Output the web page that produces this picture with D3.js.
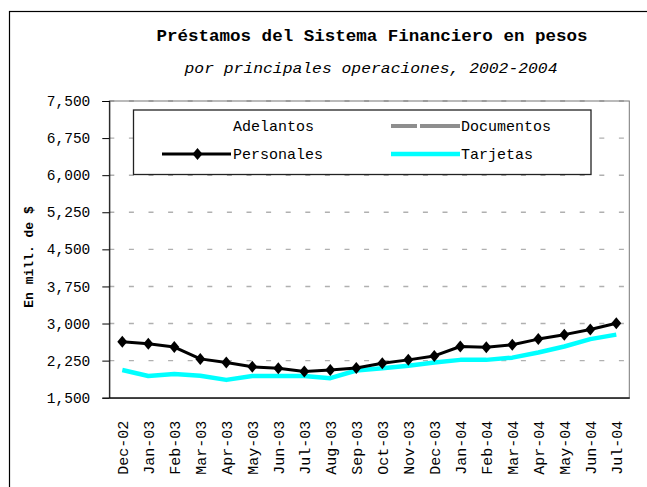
<!DOCTYPE html>
<html>
<head>
<meta charset="utf-8">
<script src="https://cdn.jsdelivr.net/npm/d3@7"></script>
<style>
  body { margin: 0; background: #fff; }
  text { font-family: "Liberation Mono", "DejaVu Sans Mono", monospace; fill: #000; }
</style>
</head>
<body>
<div id="chart"></div>
<script>
// months on the category axis
var months = ["Dec-02","Jan-03","Feb-03","Mar-03","Apr-03","May-03","Jun-03","Jul-03","Aug-03","Sep-03",
              "Oct-03","Nov-03","Dec-03","Jan-04","Feb-04","Mar-04","Apr-04","May-04","Jun-04","Jul-04"];

// en millones de $
var personales = [2630, 2590, 2525, 2285, 2210, 2125, 2095, 2030, 2060, 2100,
                  2195, 2265, 2345, 2535, 2520, 2570, 2685, 2775, 2880, 3005];
var tarjetas   = [2060, 1940, 1980, 1945, 1860, 1940, 1940, 1940, 1895, 2050,
                  2095, 2145, 2210, 2265, 2265, 2310, 2415, 2535, 2685, 2775];

var yTicks = [1500, 2250, 3000, 3750, 4500, 5250, 6000, 6750, 7500];

var width = 647, height = 487;
var plot = {left: 109.3, right: 629.3, top: 101, bottom: 397.7};

var svg = d3.select("#chart").append("svg")
    .attr("width", width).attr("height", height);

// outer chart border (runs off the bottom/right of the picture)
svg.append("rect")
    .attr("x", 9.5).attr("y", 11.5)
    .attr("width", 660).attr("height", 500)
    .attr("fill", "#fff").attr("stroke", "#000").attr("stroke-width", 1.2);

var x = d3.scaleBand().domain(months).range([plot.left, plot.right]);
var y = d3.scaleLinear().domain([1500, 7500]).range([plot.bottom, plot.top]);
var cx = function (m) { return x(m) + x.bandwidth() / 2; };

// gridlines
svg.append("g").selectAll("line")
    .data(yTicks.slice(1))
    .enter().append("line")
    .attr("x1", plot.left).attr("x2", plot.right)
    .attr("y1", function (d) { return y(d); })
    .attr("y2", function (d) { return y(d); })
    .attr("stroke", "#b0b0b0").attr("stroke-width", 1.4)
    .attr("stroke-dasharray", "5,14.6");

// plot area frame (grey right/top)
svg.append("rect")
    .attr("x", plot.left).attr("y", plot.top)
    .attr("width", plot.right - plot.left).attr("height", plot.bottom - plot.top)
    .attr("fill", "none").attr("stroke", "#777").attr("stroke-width", 1);

// y axis
var yAxis = svg.append("g")
    .attr("transform", "translate(" + plot.left + ",0)")
    .call(d3.axisLeft(y).tickValues(yTicks).tickFormat(d3.format(",")).tickSize(7).tickPadding(12));
yAxis.select(".domain").attr("stroke", "#000");
yAxis.selectAll(".tick line").attr("stroke", "#000");
yAxis.selectAll("text").style("font-size", "14.5px").attr("fill", "#111")
    .style("font-family", "Liberation Mono");

// x axis
var xAxis = svg.append("g")
    .attr("transform", "translate(0," + plot.bottom + ")")
    .call(d3.axisBottom(x).tickSize(0).tickSizeOuter(0));
xAxis.select(".domain").attr("stroke", "#000").attr("stroke-width", 1.3);
xAxis.selectAll("text")
    .attr("transform", "translate(0,23) rotate(-90)")
    .attr("x", 0).attr("y", 0).attr("dy", "0.36em")
    .style("text-anchor", "end")
    .style("font-size", "15px")
    .style("font-family", "Liberation Mono")
    .attr("fill", "#111");

// axis title
svg.append("text")
    .attr("transform", "translate(28,257) rotate(-90)")
    .attr("text-anchor", "middle").attr("dy", "0.36em")
    .style("font-size", "13px").style("font-weight", "bold")
    .text("En mill. de $");

// titles
svg.append("text")
    .attr("x", 372).attr("y", 41)
    .attr("text-anchor", "middle")
    .attr("textLength", 431).attr("lengthAdjust", "spacingAndGlyphs")
    .style("font-size", "16px").style("font-weight", "bold")
    .text("Préstamos del Sistema Financiero en pesos");
svg.append("text")
    .attr("x", 371).attr("y", 73)
    .attr("text-anchor", "middle")
    .attr("textLength", 373).attr("lengthAdjust", "spacingAndGlyphs")
    .style("font-size", "15px").style("font-style", "italic")
    .text("por principales operaciones, 2002-2004");

// series
var line = d3.line()
    .x(function (d, i) { return cx(months[i]); })
    .y(function (d) { return y(d); });

svg.append("path").datum(tarjetas)
    .attr("d", line)
    .attr("fill", "none").attr("stroke", "#00ffff")
    .attr("stroke-width", 4.5).attr("stroke-linejoin", "round");

svg.append("path").datum(personales)
    .attr("d", line)
    .attr("fill", "none").attr("stroke", "#000")
    .attr("stroke-width", 3).attr("stroke-linejoin", "round");

function diamond(px, py) {
  return "M" + px + "," + (py - 6) + "L" + (px + 5) + "," + py +
         "L" + px + "," + (py + 6) + "L" + (px - 5) + "," + py + "Z";
}

svg.append("g").selectAll("path")
    .data(personales)
    .enter().append("path")
    .attr("d", function (d, i) { return diamond(cx(months[i]), y(d)); })
    .attr("fill", "#000");

// legend
var legend = svg.append("g").attr("id", "legend");
legend.append("rect")
    .attr("x", 133.5).attr("y", 110)
    .attr("width", 457.5).attr("height", 64.5)
    .attr("fill", "#fff").attr("stroke", "#222").attr("stroke-width", 1.3);

var legendItems = [
  {name: "Adelantos",  col: 0, row: 0, color: "#fff",    w: 3,   dash: null, marker: false},
  {name: "Documentos", col: 1, row: 0, color: "#8e8e8e", w: 4,   dash: "26,3,100", marker: false},
  {name: "Personales", col: 0, row: 1, color: "#000",    w: 3,   dash: null, marker: true},
  {name: "Tarjetas",   col: 1, row: 1, color: "#00ffff", w: 4.5, dash: null, marker: false}
];
var colX = [162, 391], rowY = [126, 154];

legendItems.forEach(function (e) {
  var x0 = colX[e.col], yy = rowY[e.row];
  legend.append("line")
      .attr("x1", x0).attr("x2", x0 + 69)
      .attr("y1", yy).attr("y2", yy)
      .attr("stroke", e.color).attr("stroke-width", e.w)
      .attr("stroke-dasharray", e.dash);
  if (e.marker) {
    legend.append("path").attr("d", diamond(x0 + 35.5, yy)).attr("fill", "#000");
  }
  legend.append("text")
      .attr("x", x0 + (e.col === 0 ? 71 : 70)).attr("y", yy).attr("dy", "0.35em")
      .style("font-size", "15px")
      .text(e.name);
});
</script>
</body>
</html>
